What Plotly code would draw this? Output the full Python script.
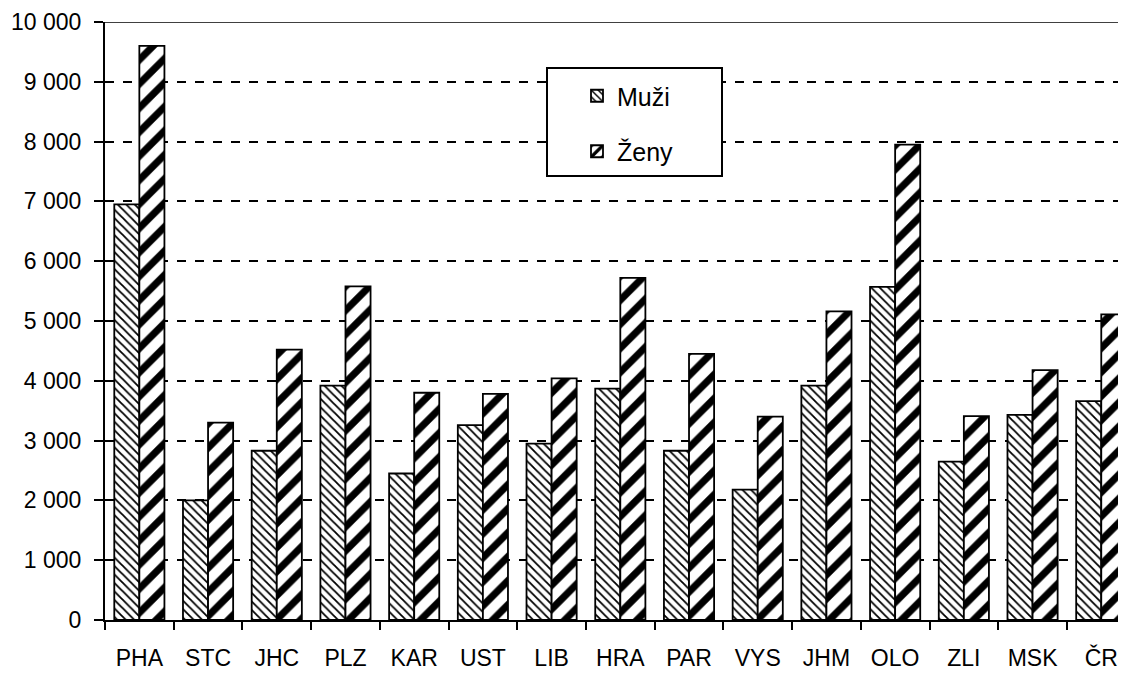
import plotly.graph_objects as go

categories = ["PHA", "STC", "JHC", "PLZ", "KAR", "UST", "LIB", "HRA", "PAR", "VYS", "JHM", "OLO", "ZLI", "MSK", "ČR"]
muzi = [6950, 2000, 2830, 3920, 2450, 3260, 2950, 3870, 2830, 2180, 3920, 5570, 2650, 3430, 3660]
zeny = [9600, 3300, 4520, 5580, 3800, 3780, 4040, 5720, 4450, 3400, 5160, 7950, 3410, 4180, 5110]
y_ticks = [0, 1000, 2000, 3000, 4000, 5000, 6000, 7000, 8000, 9000, 10000]
y_tick_labels = ["0", "1 000", "2 000", "3 000", "4 000", "5 000", "6 000", "7 000", "8 000", "9 000", "10 000"]

FONT = "Liberation Sans, Arial, sans-serif"
W, H = 1126, 675
OFF = 8  # page body margin
# desired screen positions of plot area
SL, ST, SB, SR = 105, 22, 620, 1126
L = SL - OFF
T = ST - OFF
B = H - (SB - OFF)
R = W - (SR - OFF)

fig = go.Figure()
fig.add_trace(go.Bar(
    x=categories, y=muzi, name="Muži", legendgroup="m",
    marker=dict(color="white", line=dict(color="black", width=1.8),
                pattern=dict(shape="\\", size=6, solidity=0.3, fgcolor="black",
                             bgcolor="white", fgopacity=1)),
))
fig.add_trace(go.Bar(
    x=categories, y=zeny, name="Ženy", legendgroup="z",
    marker=dict(color="white", line=dict(color="black", width=1.8),
                pattern=dict(shape="/", size=17, solidity=0.42, fgcolor="black",
                             bgcolor="white", fgopacity=1)),
))

pw = W - L - R
ph = H - T - B
def px_to_x(sx):
    return (sx - OFF - L) / pw
def px_to_y(sy):
    return (H - B - (sy - OFF)) / ph

fig.update_layout(
    width=W, height=H,
    margin=dict(l=L, r=R, t=T, b=B, autoexpand=False),
    paper_bgcolor="white", plot_bgcolor="white",
    barmode="group", bargap=0.27, bargroupgap=0,
    font=dict(family=FONT, size=23, color="black"),
    showlegend=True,
    legend=dict(x=px_to_x(577), y=px_to_y(73), xanchor="left", yanchor="top",
                borderwidth=0, bgcolor="rgba(0,0,0,0)",
                font=dict(family=FONT, size=25, color="black"),
                tracegroupgap=20, itemwidth=30),
)
fig.update_xaxes(
    type="category", range=[-0.5, 14.36], automargin=False,
    showline=True, linecolor="black", linewidth=2,
    ticks="outside", tickson="boundaries", ticklen=8, tickwidth=2, tickcolor="black",
    ticklabelstandoff=16,
    showgrid=False, tickfont=dict(family=FONT, size=23),
)
fig.update_yaxes(
    range=[0, 10000], tickvals=y_ticks, ticktext=y_tick_labels, automargin=False,
    showline=True, linecolor="black", linewidth=2,
    ticks="outside", ticklen=9, tickwidth=2, tickcolor="black",
    ticklabelstandoff=8,
    showgrid=True, gridcolor="black", gridwidth=2, griddash="dash",
    zeroline=False, tickfont=dict(family=FONT, size=23),
)
fig.add_shape(type="line", xref="paper", yref="y", x0=0, x1=0.997, y0=10000, y1=10000,
              line=dict(color="black", width=1.5), layer="below")
# legend frame
fig.add_shape(type="rect", xref="paper", yref="paper",
              x0=px_to_x(547), x1=px_to_x(722), y0=px_to_y(176), y1=px_to_y(68),
              line=dict(color="black", width=2), fillcolor="white", layer="above")

fig.write_html("out.html")
